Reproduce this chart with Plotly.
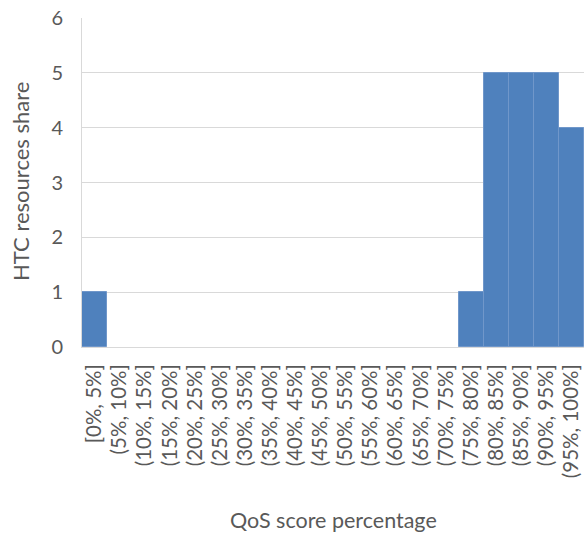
import plotly.graph_objects as go

categories = ["[0%, 5%]", "(5%, 10%]", "(10%, 15%]", "(15%, 20%]", "(20%, 25%]",
              "(25%, 30%]", "(30%, 35%]", "(35%, 40%]", "(40%, 45%]", "(45%, 50%]",
              "(50%, 55%]", "(55%, 60%]", "(60%, 65%]", "(65%, 70%]", "(70%, 75%]",
              "(75%, 80%]", "(80%, 85%]", "(85%, 90%]", "(90%, 95%]", "(95%, 100%]"]
values = [1, 0, 0, 0, 0, 0, 0, 0, 0, 0, 0, 0, 0, 0, 0, 1, 5, 5, 5, 4]
y_ticks = [0, 1, 2, 3, 4, 5, 6]

font_family = "Lato, Calibri, Carlito, sans-serif"
grey = "#595959"

fig = go.Figure(go.Bar(
    x=categories, y=values,
    marker=dict(color="#4F81BD",
                line=dict(color="#7097CA", width=[1 if v > 0 else 0 for v in values])),
))

fig.update_layout(
    width=584, height=534,
    margin=dict(l=82, r=0, t=18, b=187, autoexpand=False),
    paper_bgcolor="white", plot_bgcolor="white",
    bargap=0,
    showlegend=False,
    font=dict(family=font_family, color=grey),
    annotations=[
        dict(text="QoS score percentage", xref="paper", yref="paper",
             x=(333 - 82) / 502, y=-(520 - 347) / 329, xanchor="center", yanchor="middle",
             showarrow=False, font=dict(size=21.5, color=grey)),
        dict(text="HTC resources share", xref="paper", yref="paper",
             x=-(82 - 20) / 502, y=(347 - 182) / 329, xanchor="center", yanchor="middle",
             textangle=-90, showarrow=False, font=dict(size=22, color=grey)),
    ],
)
fig.update_xaxes(
    type="category", automargin=False,
    tickmode="array", tickvals=categories, ticktext=categories,
    tickangle=-90,
    tickfont=dict(size=20.5, color=grey),
    showline=True, linecolor="#D9D9D9", linewidth=1,
    showgrid=False, ticks="", ticklabelstandoff=8,
)
fig.update_yaxes(
    range=[0, 6], tickvals=y_ticks, automargin=False,
    tickfont=dict(size=20, color=grey),
    showline=True, linecolor="#D9D9D9", linewidth=1,
    showgrid=True, gridcolor="#D9D9D9", gridwidth=1,
    zeroline=False, ticks="", ticklabelstandoff=14,
)

fig.write_html("out.html", config={"displayModeBar": False},
               post_script="document.body.style.margin='0';document.body.style.overflow='hidden';")
